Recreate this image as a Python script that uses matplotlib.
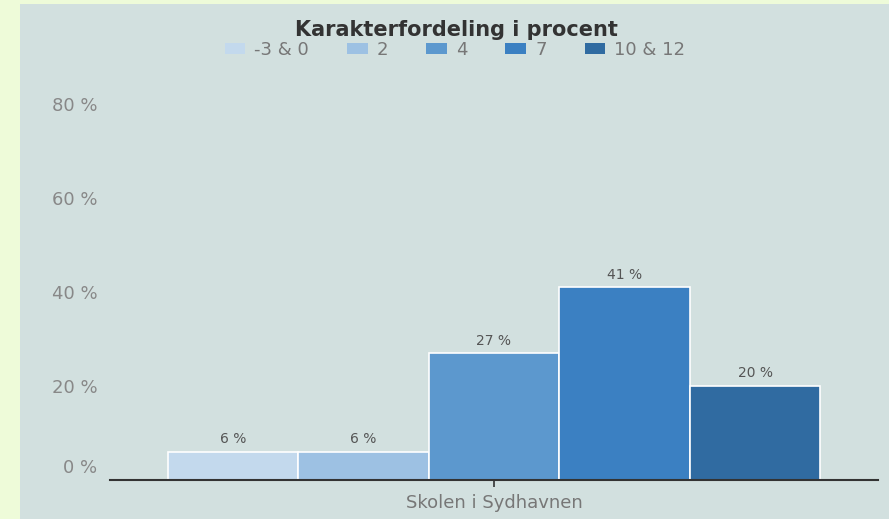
import matplotlib
matplotlib.use("Agg")
import matplotlib.pyplot as plt
from matplotlib.patches import Rectangle, Patch
from matplotlib.transforms import ScaledTranslation

# data
school = "Skolen i Sydhavnen"
grades = ["-3 & 0", "2", "4", "7", "10 & 12"]
shares = [6, 6, 27, 41, 20]
colors = ["#c3d9ed", "#9dc1e3", "#5c98ce", "#3b80c2", "#306ba1"]
yticks = [0, 20, 40, 60, 80]

fig = plt.figure(figsize=(8.89, 5.19), dpi=100, facecolor="#eefbd9")
# grey panel behind the chart
fig.patches.append(Rectangle((20 / 889, 0), 1, 1 - 4 / 519, transform=fig.transFigure,
                             facecolor="#d2e0df", edgecolor="none", zorder=-1))

ax = fig.add_axes([110 / 889, 1 - 480 / 519, 768 / 889, 390 / 519])
ax.set_facecolor("none")

w = 0.17
for i, (v, c) in enumerate(zip(shares, colors)):
    b = ax.bar((i - 2) * w, v, width=w, color=c, edgecolor="white", linewidth=1.2)
    ax.bar_label(b, labels=["%d %%" % v], padding=4, fontsize=10, color="#555555")

ax.set_xlim(-0.5, 0.5)
ax.set_ylim(0, 83)
ax.set_xticks([0])
ax.set_xticklabels([school], fontsize=13, color="#777777")
ax.set_yticks(yticks)
ax.set_yticklabels(["%d %%" % t for t in yticks], fontsize=13, color="#888888")
ax.tick_params(axis="y", length=0, pad=9)
ax.tick_params(axis="x", length=5, width=1.2, color="#333333", pad=5)
for s in ["left", "right", "top"]:
    ax.spines[s].set_visible(False)
ax.spines["bottom"].set_color("#333333")
ax.spines["bottom"].set_linewidth(1.5)

# the 0 % label sits a bit above the axis line
lab0 = ax.yaxis.get_major_ticks()[0].label1
lab0.set_transform(lab0.get_transform() + ScaledTranslation(0, 10 / 72, fig.dpi_scale_trans))

fig.text(456 / 889, 1 - 30 / 519, "Karakterfordeling i procent", ha="center", va="center",
         fontsize=15, fontweight="bold", color="#333333")
handles = [Patch(facecolor=c, edgecolor="none") for c in colors]
fig.legend(handles=handles, labels=grades, loc="center", bbox_to_anchor=(455 / 889, 1 - 50 / 519),
           ncol=5, frameon=False, fontsize=13, labelcolor="#777777",
           handlelength=1.15, handleheight=0.6, handletextpad=0.5, columnspacing=2.1)

fig.savefig("out.png", dpi=100, facecolor=fig.get_facecolor())
